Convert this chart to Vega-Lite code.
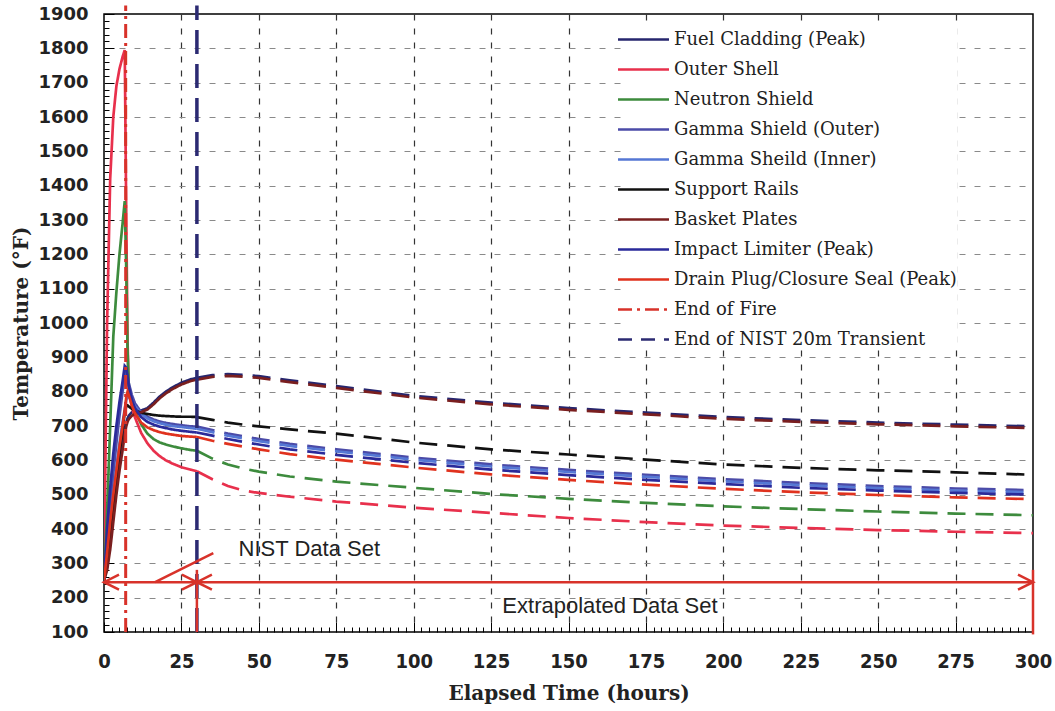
{
  "$schema": "https://vega.github.io/schema/vega-lite/v6.json",
  "autosize": {"type": "none"},
  "padding": {"left": 104, "top": 14, "right": 22, "bottom": 79},
  "width": 929,
  "height": 618,
  "background": "white",
  "config": {
    "view": {"stroke": "#000", "strokeWidth": 1.5},
    "font": "DejaVu Sans"
  },
  "datasets": {
    "temps": [
      {"t": 0, "seg": "NIST", "FC": 250, "OS": 250, "NS": 250, "GO": 250, "GI": 250, "SR": 250, "BP": 250, "IL": 250, "DP": 250},
      {"t": 1, "seg": "NIST", "FC": 290, "OS": 1000, "NS": 450, "GO": 350, "GI": 320, "SR": 300, "BP": 280, "IL": 400, "DP": 330},
      {"t": 2, "seg": "NIST", "FC": 360, "OS": 1420, "NS": 700, "GO": 460, "GI": 410, "SR": 380, "BP": 340, "IL": 520, "DP": 420},
      {"t": 3, "seg": "NIST", "FC": 440, "OS": 1600, "NS": 960, "GO": 560, "GI": 500, "SR": 460, "BP": 420, "IL": 620, "DP": 500},
      {"t": 4, "seg": "NIST", "FC": 520, "OS": 1690, "NS": 1090, "GO": 650, "GI": 580, "SR": 540, "BP": 500, "IL": 700, "DP": 570},
      {"t": 5, "seg": "NIST", "FC": 590, "OS": 1740, "NS": 1200, "GO": 730, "GI": 650, "SR": 620, "BP": 570, "IL": 770, "DP": 640},
      {"t": 6, "seg": "NIST", "FC": 650, "OS": 1775, "NS": 1290, "GO": 800, "GI": 710, "SR": 690, "BP": 630, "IL": 830, "DP": 700},
      {"t": 6.7, "seg": "NIST", "FC": 690, "OS": 1795, "NS": 1355, "GO": 845, "GI": 750, "SR": 740, "BP": 675, "IL": 875, "DP": 745},
      {"t": 7.2, "seg": "NIST", "FC": 710, "OS": 1300, "NS": 1150, "GO": 858, "GI": 775, "SR": 758, "BP": 700, "IL": 870, "DP": 785},
      {"t": 7.6, "seg": "NIST", "FC": 722, "OS": 950, "NS": 920, "GO": 845, "GI": 788, "SR": 760, "BP": 712, "IL": 845, "DP": 800},
      {"t": 8, "seg": "NIST", "FC": 730, "OS": 800, "NS": 820, "GO": 825, "GI": 785, "SR": 757, "BP": 720, "IL": 815, "DP": 790},
      {"t": 9, "seg": "NIST", "FC": 740, "OS": 755, "NS": 770, "GO": 790, "GI": 772, "SR": 750, "BP": 730, "IL": 775, "DP": 760},
      {"t": 10, "seg": "NIST", "FC": 744, "OS": 725, "NS": 745, "GO": 766, "GI": 758, "SR": 745, "BP": 736, "IL": 752, "DP": 737},
      {"t": 12, "seg": "NIST", "FC": 745, "OS": 680, "NS": 705, "GO": 740, "GI": 736, "SR": 739, "BP": 740, "IL": 726, "DP": 710},
      {"t": 14, "seg": "NIST", "FC": 752, "OS": 650, "NS": 678, "GO": 727, "GI": 722, "SR": 735, "BP": 748, "IL": 712, "DP": 696},
      {"t": 16, "seg": "NIST", "FC": 768, "OS": 628, "NS": 662, "GO": 719, "GI": 714, "SR": 732, "BP": 763, "IL": 704, "DP": 688},
      {"t": 18, "seg": "NIST", "FC": 786, "OS": 612, "NS": 652, "GO": 713, "GI": 708, "SR": 730, "BP": 781, "IL": 698, "DP": 682},
      {"t": 20, "seg": "NIST", "FC": 800, "OS": 600, "NS": 646, "GO": 709, "GI": 704, "SR": 729, "BP": 795, "IL": 694, "DP": 678},
      {"t": 22, "seg": "NIST", "FC": 812, "OS": 591, "NS": 641, "GO": 706, "GI": 700, "SR": 728, "BP": 807, "IL": 690, "DP": 675},
      {"t": 25, "seg": "NIST", "FC": 826, "OS": 580, "NS": 635, "GO": 702, "GI": 697, "SR": 727, "BP": 821, "IL": 686, "DP": 671},
      {"t": 28, "seg": "NIST", "FC": 836, "OS": 573, "NS": 630, "GO": 699, "GI": 694, "SR": 727, "BP": 831, "IL": 683, "DP": 669},
      {"t": 30, "seg": "NIST", "FC": 840, "OS": 568, "NS": 628, "GO": 698, "GI": 692, "SR": 726, "BP": 835, "IL": 681, "DP": 668},
      {"t": 30, "seg": "Extrapolated", "FC": 840, "OS": 568, "NS": 628, "GO": 698, "GI": 692, "SR": 726, "BP": 835, "IL": 681, "DP": 668},
      {"t": 35, "seg": "Extrapolated", "FC": 848, "OS": 545, "NS": 605, "GO": 688, "GI": 682, "SR": 718, "BP": 843, "IL": 672, "DP": 657},
      {"t": 40, "seg": "Extrapolated", "FC": 851, "OS": 525, "NS": 588, "GO": 678, "GI": 672, "SR": 710, "BP": 846, "IL": 662, "DP": 648},
      {"t": 45, "seg": "Extrapolated", "FC": 849, "OS": 512, "NS": 576, "GO": 670, "GI": 664, "SR": 704, "BP": 844, "IL": 654, "DP": 640},
      {"t": 50, "seg": "Extrapolated", "FC": 845, "OS": 505, "NS": 567, "GO": 662, "GI": 656, "SR": 699, "BP": 840, "IL": 646, "DP": 632},
      {"t": 60, "seg": "Extrapolated", "FC": 833, "OS": 494, "NS": 553, "GO": 648, "GI": 642, "SR": 690, "BP": 828, "IL": 632, "DP": 618},
      {"t": 75, "seg": "Extrapolated", "FC": 816, "OS": 480, "NS": 538, "GO": 632, "GI": 626, "SR": 678, "BP": 811, "IL": 616, "DP": 602},
      {"t": 100, "seg": "Extrapolated", "FC": 788, "OS": 462, "NS": 520, "GO": 608, "GI": 602, "SR": 652, "BP": 783, "IL": 593, "DP": 579},
      {"t": 125, "seg": "Extrapolated", "FC": 768, "OS": 447, "NS": 502, "GO": 588, "GI": 582, "SR": 632, "BP": 763, "IL": 573, "DP": 559},
      {"t": 150, "seg": "Extrapolated", "FC": 752, "OS": 432, "NS": 488, "GO": 572, "GI": 566, "SR": 617, "BP": 747, "IL": 557, "DP": 543},
      {"t": 175, "seg": "Extrapolated", "FC": 739, "OS": 420, "NS": 476, "GO": 558, "GI": 552, "SR": 602, "BP": 734, "IL": 543, "DP": 529},
      {"t": 200, "seg": "Extrapolated", "FC": 726, "OS": 410, "NS": 466, "GO": 545, "GI": 539, "SR": 588, "BP": 721, "IL": 531, "DP": 517},
      {"t": 225, "seg": "Extrapolated", "FC": 717, "OS": 403, "NS": 458, "GO": 534, "GI": 528, "SR": 578, "BP": 712, "IL": 520, "DP": 507},
      {"t": 250, "seg": "Extrapolated", "FC": 710, "OS": 397, "NS": 451, "GO": 525, "GI": 519, "SR": 571, "BP": 705, "IL": 512, "DP": 499},
      {"t": 275, "seg": "Extrapolated", "FC": 704, "OS": 392, "NS": 445, "GO": 518, "GI": 512, "SR": 565, "BP": 699, "IL": 505, "DP": 492},
      {"t": 300, "seg": "Extrapolated", "FC": 699, "OS": 388, "NS": 440, "GO": 513, "GI": 507, "SR": 558, "BP": 694, "IL": 500, "DP": 487}
    ],
    "names": [
      {"key": "FC", "name": "Fuel Cladding (Peak)"},
      {"key": "OS", "name": "Outer Shell"},
      {"key": "NS", "name": "Neutron Shield"},
      {"key": "GO", "name": "Gamma Shield (Outer)"},
      {"key": "GI", "name": "Gamma Sheild (Inner)"},
      {"key": "SR", "name": "Support Rails"},
      {"key": "BP", "name": "Basket Plates"},
      {"key": "IL", "name": "Impact Limiter (Peak)"},
      {"key": "DP", "name": "Drain Plug/Closure Seal (Peak)"}
    ],
    "markers": [
      {"name": "End of Fire", "t": 7, "v": 100, "v2": 1925},
      {"name": "End of NIST 20m Transient", "t": 30, "v": 100, "v2": 1925}
    ],
    "spans": [
      {"t": 0, "t2": 30, "v": 245, "v2": 245},
      {"t": 30, "t2": 300, "v": 245, "v2": 245},
      {"t": 30, "t2": 30, "v": 100, "v2": 281},
      {"t": 300, "t2": 300, "v": 93, "v2": 281},
      {"t": 16.5, "t2": 35.3, "v": 245, "v2": 330}
    ],
    "heads": [
      {"t": 0, "v": 245, "dir": "left"},
      {"t": 30, "v": 245, "dir": "right"},
      {"t": 30, "v": 245, "dir": "left"},
      {"t": 300, "v": 245, "dir": "right"}
    ],
    "notes": [
      {"t": 66.3, "v": 342, "text": "NIST Data Set"},
      {"t": 163.4, "v": 176, "text": "Extrapolated Data Set"}
    ]
  },
  "encoding": {
    "x": {
      "field": "t",
      "type": "quantitative",
      "scale": {"domain": [0, 300], "nice": false, "zero": false},
      "axis": {
        "title": "Elapsed Time (hours)",
        "titleFont": "DejaVu Serif",
        "titleFontSize": 20,
        "titleFontWeight": "bold",
        "titleColor": "#222",
        "titlePadding": 7,
        "values": [0,2.5,5,7.5,10,12.5,15,17.5,20,22.5,25,27.5,30,32.5,35,37.5,40,42.5,45,47.5,50,52.5,55,57.5,60,62.5,65,67.5,70,72.5,75,77.5,80,82.5,85,87.5,90,92.5,95,97.5,100,102.5,105,107.5,110,112.5,115,117.5,120,122.5,125,127.5,130,132.5,135,137.5,140,142.5,145,147.5,150,152.5,155,157.5,160,162.5,165,167.5,170,172.5,175,177.5,180,182.5,185,187.5,190,192.5,195,197.5,200,202.5,205,207.5,210,212.5,215,217.5,220,222.5,225,227.5,230,232.5,235,237.5,240,242.5,245,247.5,250,252.5,255,257.5,260,262.5,265,267.5,270,272.5,275,277.5,280,282.5,285,287.5,290,292.5,295,297.5,300],
        "labelExpr": "datum.value % 25 === 0 ? datum.label : ''",
        "format": "d",
        "labelFont": "DejaVu Sans Condensed",
        "labelFontWeight": "bold",
        "labelFontSize": 20,
        "labelColor": "#222",
        "labelPadding": 29,
        "labelFlush": false,
        "labelOverlap": false,
        "domain": false,
        "tickColor": "#000",
        "tickWidth": 1,
        "tickSize": {"condition": {"test": "datum.value % 25 === 0", "value": -10}, "value": -5},
        "grid": true,
        "gridColor": "#333",
        "gridDash": [6, 8],
        "gridWidth": 1.2,
        "gridOpacity": {"condition": {"test": "datum.value % 25 === 0 && datum.value > 0 && datum.value < 300", "value": 1}, "value": 0}
      }
    },
    "y": {
      "field": "v",
      "type": "quantitative",
      "scale": {"domain": [100, 1900], "nice": false, "zero": false},
      "axis": {
        "title": "Temperature (°F)",
        "titleFont": "DejaVu Serif",
        "titleFontSize": 20,
        "titleFontWeight": "bold",
        "titleColor": "#222",
        "titlePadding": 6,
        "values": [100,120,140,160,180,200,220,240,260,280,300,320,340,360,380,400,420,440,460,480,500,520,540,560,580,600,620,640,660,680,700,720,740,760,780,800,820,840,860,880,900,920,940,960,980,1000,1020,1040,1060,1080,1100,1120,1140,1160,1180,1200,1220,1240,1260,1280,1300,1320,1340,1360,1380,1400,1420,1440,1460,1480,1500,1520,1540,1560,1580,1600,1620,1640,1660,1680,1700,1720,1740,1760,1780,1800,1820,1840,1860,1880,1900],
        "labelExpr": "datum.value % 100 === 0 ? datum.label : ''",
        "format": "d",
        "labelFont": "DejaVu Sans",
        "labelFontWeight": "bold",
        "labelFontSize": 18,
        "labelColor": "#222",
        "labelPadding": 26,
        "labelFlush": false,
        "labelOverlap": false,
        "domain": false,
        "tickColor": "#000",
        "tickWidth": 1,
        "tickSize": {"condition": {"test": "datum.value % 100 === 0", "value": -10}, "value": -5},
        "grid": true,
        "gridColor": "#8a8a8a",
        "gridDash": [6, 9],
        "gridWidth": 1,
        "gridOpacity": {"condition": {"test": "datum.value % 100 === 0 && datum.value > 100 && datum.value < 1900", "value": 1}, "value": 0}
      }
    }
  },
  "layer": [
    {
      "data": {"name": "temps"},
      "transform": [
        {"fold": ["FC", "OS", "NS", "GO", "GI", "SR", "BP", "IL", "DP"], "as": ["key", "v"]},
        {"lookup": "key", "from": {"data": {"name": "names"}, "key": "key", "fields": ["name"]}}
      ],
      "mark": {"type": "line", "strokeWidth": 2.7, "clip": true},
      "encoding": {
        "color": {
          "field": "name",
          "type": "nominal",
          "scale": {
            "domain": ["Fuel Cladding (Peak)", "Outer Shell", "Neutron Shield", "Gamma Shield (Outer)", "Gamma Sheild (Inner)", "Support Rails", "Basket Plates", "Impact Limiter (Peak)", "Drain Plug/Closure Seal (Peak)", "End of Fire", "End of NIST 20m Transient"],
            "range": ["#26266e", "#e8304c", "#3d8b3d", "#4b4ba8", "#5577d4", "#111111", "#7a1f1f", "#2a2a9a", "#e0321e", "#d8322a", "#2b2a72"]
          },
          "legend": {
            "title": null,
            "orient": "none",
            "legendX": 523,
            "legendY": 9,
            "symbolType": "M-1.7,0H1.7",
            "symbolSize": 900,
            "symbolStrokeWidth": 2.5,
            "symbolFillColor": "transparent",
            "labelFont": "DejaVu Serif",
            "labelFontSize": 18,
            "labelColor": "#222",
            "labelOffset": 14,
            "labelLimit": 500,
            "rowPadding": 4,
            "fillColor": "white",
            "encode": {
              "symbols": {
                "update": {
                  "fill": {"value": "transparent"},
                  "strokeDash": {"signal": "datum.value === 'End of Fire' ? [14, 5, 3, 5] : datum.value === 'End of NIST 20m Transient' ? [14, 9] : [1, 0]"}
                }
              }
            }
          }
        },
        "strokeDash": {
          "field": "seg",
          "type": "nominal",
          "scale": {"domain": ["NIST", "Extrapolated"], "range": [[1, 0], [18, 10]]},
          "legend": null
        },
        "detail": {"field": "key"}
      }
    },
    {
      "data": {"name": "markers"},
      "transform": [{"filter": "datum.name === 'End of Fire'"}],
      "mark": {"type": "rule", "strokeWidth": 3, "strokeDash": [14, 5, 3, 5], "clip": false},
      "encoding": {
        "y2": {"field": "v2"},
        "color": {"field": "name", "type": "nominal"}
      }
    },
    {
      "data": {"name": "markers"},
      "transform": [{"filter": "datum.name === 'End of NIST 20m Transient'"}],
      "mark": {"type": "rule", "strokeWidth": 3.5, "strokeDash": [24, 10], "clip": false},
      "encoding": {
        "y2": {"field": "v2"},
        "color": {"field": "name", "type": "nominal"}
      }
    },
    {
      "data": {"name": "spans"},
      "mark": {"type": "rule", "color": "#d8322a", "strokeWidth": 2.5, "clip": false},
      "encoding": {
        "x2": {"field": "t2"},
        "y2": {"field": "v2"}
      }
    },
    {
      "data": {"name": "heads"},
      "mark": {"type": "point", "filled": false, "color": "#d8322a", "strokeWidth": 2.5, "opacity": 1, "size": 900, "clip": false},
      "encoding": {
        "shape": {
          "field": "dir",
          "type": "nominal",
          "scale": {"domain": ["left", "right"], "range": ["M1,-0.5L0,0L1,0.5", "M-1,-0.5L0,0L-1,0.5"]},
          "legend": null
        }
      }
    },
    {
      "data": {"name": "notes"},
      "mark": {"type": "text", "font": "Liberation Sans", "fontSize": 22, "color": "#222", "align": "center", "baseline": "middle"},
      "encoding": {
        "text": {"field": "text"}
      }
    }
  ]
}
